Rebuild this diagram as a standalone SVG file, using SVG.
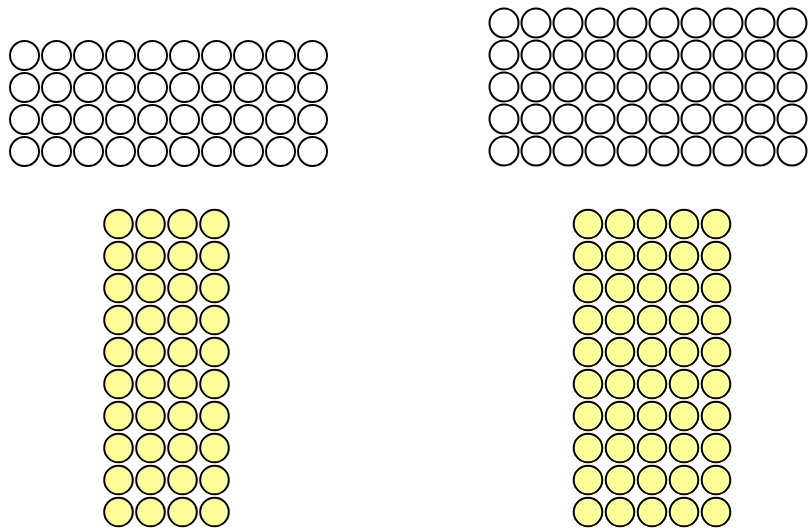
<svg xmlns="http://www.w3.org/2000/svg" xmlns:xlink="http://www.w3.org/1999/xlink" width="810" height="528" viewBox="0 0 810 528">
<style>
.w{fill:#ffffff;stroke:#000000;stroke-width:2}
.y{fill:#ffff99;stroke:#000000;stroke-width:2}
</style>
<defs>
<circle id="cw" class="w" cx="0" cy="0" r="14.5"/>
<circle id="cy" class="y" cx="0" cy="0" r="14.3"/>
<g id="rw10">
<use href="#cw" x="0"/><use href="#cw" x="32"/><use href="#cw" x="64"/><use href="#cw" x="96"/><use href="#cw" x="128"/><use href="#cw" x="160"/><use href="#cw" x="192"/><use href="#cw" x="224"/><use href="#cw" x="256"/><use href="#cw" x="288"/>
</g>
<g id="ry4">
<use href="#cy" x="0"/><use href="#cy" x="32"/><use href="#cy" x="64"/><use href="#cy" x="96"/>
</g>
<g id="ry5">
<use href="#cy" x="0"/><use href="#cy" x="32"/><use href="#cy" x="64"/><use href="#cy" x="96"/><use href="#cy" x="128"/>
</g>
</defs>
<rect width="810" height="528" fill="#ffffff"/>
<g id="grid-white-left">
<use href="#rw10" x="24.5" y="55.5"/>
<use href="#rw10" x="24.5" y="87.5"/>
<use href="#rw10" x="24.5" y="119.5"/>
<use href="#rw10" x="24.5" y="151.5"/>
</g>
<g id="grid-white-right">
<use href="#rw10" x="504" y="23"/>
<use href="#rw10" x="504" y="55"/>
<use href="#rw10" x="504" y="87"/>
<use href="#rw10" x="504" y="119"/>
<use href="#rw10" x="504" y="151"/>
</g>
<g id="grid-yellow-left">
<use href="#ry4" x="118.5" y="224"/>
<use href="#ry4" x="118.5" y="256"/>
<use href="#ry4" x="118.5" y="288"/>
<use href="#ry4" x="118.5" y="320"/>
<use href="#ry4" x="118.5" y="352"/>
<use href="#ry4" x="118.5" y="384"/>
<use href="#ry4" x="118.5" y="416"/>
<use href="#ry4" x="118.5" y="448"/>
<use href="#ry4" x="118.5" y="480"/>
<use href="#ry4" x="118.5" y="512"/>
</g>
<g id="grid-yellow-right">
<use href="#ry5" x="588" y="224"/>
<use href="#ry5" x="588" y="256"/>
<use href="#ry5" x="588" y="288"/>
<use href="#ry5" x="588" y="320"/>
<use href="#ry5" x="588" y="352"/>
<use href="#ry5" x="588" y="384"/>
<use href="#ry5" x="588" y="416"/>
<use href="#ry5" x="588" y="448"/>
<use href="#ry5" x="588" y="480"/>
<use href="#ry5" x="588" y="512"/>
</g>
<g id="connectors"></g>
</svg>
